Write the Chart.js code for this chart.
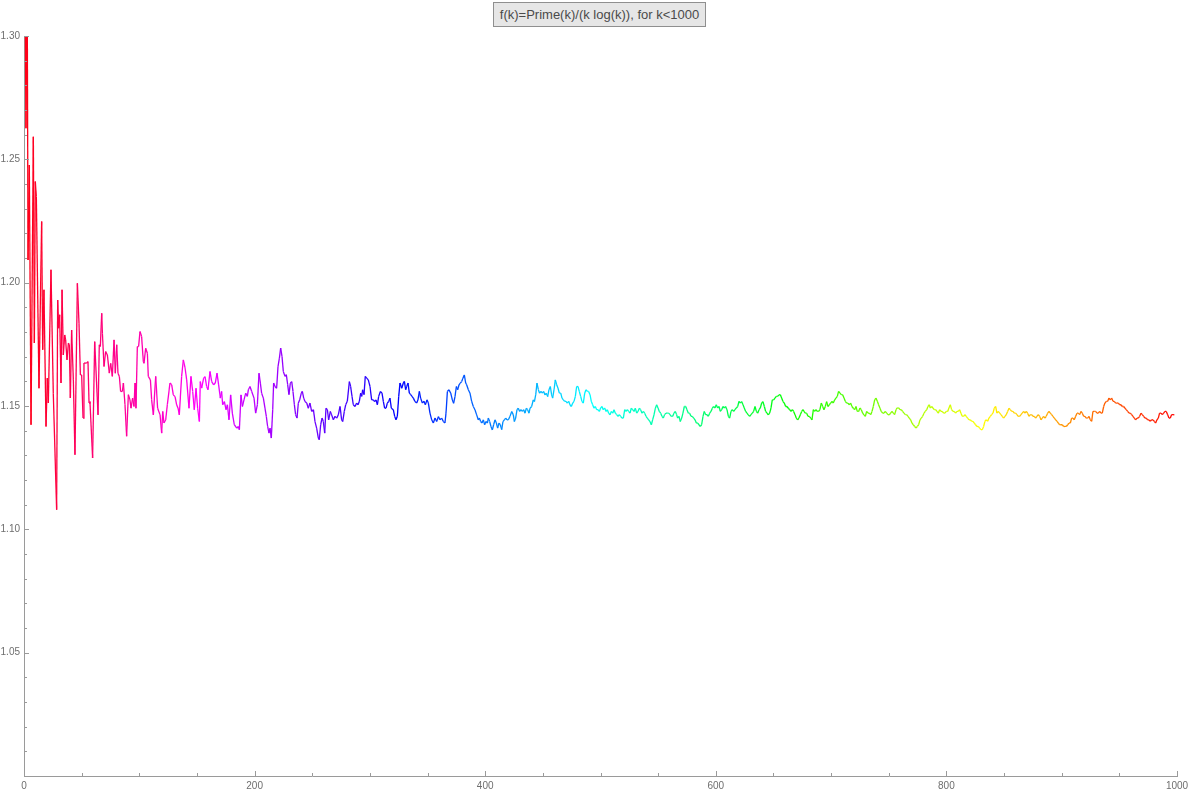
<!DOCTYPE html>
<html>
<head>
<meta charset="utf-8">
<script src="https://cdn.jsdelivr.net/npm/chart.js@4.4.1/dist/chart.umd.min.js"></script>
<style>
  html, body { margin: 0; padding: 0; background: #ffffff; }
  #wrap { position: relative; width: 1200px; height: 796px; }
  #chart { position: absolute; left: 0; top: 0; }
  #title {
    position: absolute; left: 493px; top: 2px; width: 213px; height: 25px;
    box-sizing: border-box; border: 1px solid #8f8f8f; background: #e6e6e6;
    font-family: "Liberation Sans", Arial, sans-serif; font-size: 13px; color: #4a4a4a;
    line-height: 23px; text-align: center; white-space: nowrap;
  }
</style>
</head>
<body>
<div id="wrap">
  <canvas id="chart" width="1200" height="796"></canvas>
  <div id="title">f(k)=Prime(k)/(k log(k)), for k&lt;1000</div>
</div>
<script>
// ---- data ----
const kValues = [
  1.2,1.7,2.3,2.9,3.5,4.6,6.1,8.1,9.0,9.8,
  10.7,13.0,15.3,16.2,17.3,19.1,20.2,21.1,23.4,25.4,
  28.3,29.2,30.1,30.9,32.1,33.0,34.1,35.3,36.1,37.3,
  38.5,39.3,40.2,41.3,42.8,44.2,46.3,47.7,48.9,50.0,
  51.2,52.0,54.3,55.5,56.4,57.2,59.5,61.3,64.2,65.3,
  66.2,67.4,68.0,69.4,70.8,72.3,74.0,75.2,76.6,78.1,
  79.2,80.4,81.5,82.7,83.8,85.3,86.2,87.6,89.0,90.5,
  91.9,92.8,94.2,95.4,96.3,97.1,98.3,99.4,100.6,102.0,
  103.5,104.1,105.5,107.0,107.8,109.6,110.7,112.2,114.2,115.9,
  118.0,119.4,120.3,121.4,122.9,124.3,126.6,128.1,129.5,131.0,
  132.4,133.6,134.7,136.7,138.2,139.6,141.1,143.1,144.8,146.3,
  147.7,149.2,150.6,152.1,152.9,154.1,155.8,157.0,158.4,159.6,
  161.3,162.8,164.5,165.9,167.4,168.8,170.3,171.4,172.3,173.8,
  175.2,176.4,177.8,179.2,180.7,182.4,184.5,185.9,186.8,188.2,
  189.4,190.8,192.3,193.7,194.6,196.0,197.5,199.5,200.9,202.4,
  203.8,205.0,206.1,207.6,209.0,210.2,211.3,212.5,213.4,214.5,
  215.7,216.5,217.7,219.1,220.3,221.5,222.6,223.8,224.9,226.4,
  227.5,228.7,229.8,231.0,232.2,233.3,234.5,235.6,236.8,237.9,
  239.1,240.5,241.4,242.6,243.7,245.2,246.6,248.0,249.5,251.0,
  252.4,253.8,255.3,256.1,257.3,258.5,259.6,260.8,261.9,263.1,
  264.2,265.7,266.8,268.3,269.7,271.2,272.6,274.1,275.5,276.4,
  277.8,279.0,280.4,282.2,283.3,284.5,285.6,287.1,288.5,289.7,
  290.8,292.0,292.9,293.7,294.9,296.0,297.2,298.6,300.1,301.5,
  303.0,304.1,305.3,306.5,307.6,309.1,310.5,311.7,312.8,314.0,
  315.1,316.3,317.4,318.6,320.3,321.5,322.6,323.8,325.0,326.1,
  327.6,329.0,329.9,331.0,331.9,333.1,334.2,335.4,336.5,337.7,
  339.1,340.6,341.7,342.9,344.0,345.5,346.9,348.1,349.5,350.7,
  352.1,353.6,355.0,356.5,357.9,359.4,360.8,362.2,363.7,365.1,
  366.0,367.2,368.6,370.1,371.5,372.6,373.8,375.0,376.1,377.3,
  378.4,379.6,380.7,381.9,383.1,383.9,385.4,386.8,388.3,389.7,
  391.2,392.6,394.0,394.9,396.1,397.2,398.4,399.5,400.7,401.9,
  402.7,403.9,405.0,406.2,407.3,408.5,409.7,410.8,412.0,413.1,
  414.3,415.4,416.6,417.8,418.9,420.1,421.5,423.0,424.4,425.3,
  426.4,427.6,428.7,429.9,431.0,432.2,433.4,434.5,435.7,436.8,
  438.0,438.9,440.3,441.7,442.7,443.8,444.9,446.1,447.2,448.4,
  449.6,450.7,451.9,453.0,454.2,455.3,456.5,457.6,458.5,459.7,
  460.8,462.0,463.1,464.3,465.5,466.6,467.8,468.9,470.1,471.2,
  472.4,473.5,474.7,475.9,477.0,478.2,479.3,480.5,481.6,482.8,
  483.9,485.1,486.3,487.4,488.6,489.7,490.9,492.0,493.2,494.4,
  495.5,496.7,497.8,499.0,500.1,501.3,502.4,503.6,504.8,505.9,
  507.1,508.2,509.4,510.6,511.7,512.9,514.0,515.2,516.3,517.5,
  518.6,519.8,521.0,522.1,523.3,524.4,525.6,526.7,527.9,529.1,
  530.2,531.4,532.5,533.7,534.8,536.0,537.2,538.3,539.5,540.6,
  541.8,542.9,544.1,545.2,546.4,547.6,548.7,549.9,551.0,552.2,
  553.3,554.5,555.6,556.8,558.0,559.1,560.3,561.4,562.6,563.7,
  564.9,566.0,566.9,568.1,569.2,570.4,571.5,572.7,573.9,575.0,
  576.2,577.3,578.5,579.6,580.8,582.0,583.1,584.3,585.4,586.6,
  587.7,588.9,590.0,591.2,592.4,593.5,594.7,595.8,597.0,598.1,
  599.3,600.4,601.6,602.8,603.9,605.1,606.2,607.4,608.5,609.7,
  610.9,612.0,613.2,614.3,615.5,616.6,617.8,619.0,620.1,621.3,
  622.4,623.6,624.7,625.9,627.0,628.2,629.4,630.5,631.7,632.8,
  634.0,635.2,636.3,637.5,638.6,639.8,640.9,642.1,643.2,644.4,
  645.5,646.7,647.9,649.0,650.2,651.3,652.5,653.6,654.8,656.0,
  657.1,658.3,659.4,660.6,661.7,662.9,664.1,665.2,666.4,667.5,
  668.7,669.8,671.0,672.1,673.3,674.5,675.6,676.5,677.6,678.8,
  679.9,681.1,682.3,683.4,684.6,685.7,686.9,688.0,689.2,690.3,
  691.5,692.7,693.8,695.0,696.1,697.3,698.4,699.6,700.8,701.9,
  703.1,704.2,705.4,706.5,707.7,708.8,710.0,711.2,712.3,713.5,
  714.6,715.8,716.9,718.1,719.3,720.4,721.6,722.7,723.9,725.0,
  726.2,727.4,728.5,729.7,730.8,732.0,733.1,734.3,735.5,736.6,
  737.8,738.9,740.1,741.2,742.4,743.5,744.7,745.9,747.0,748.2,
  749.3,750.5,751.6,752.8,754.0,755.1,756.3,757.4,758.6,759.7,
  760.9,762.0,763.2,764.4,765.5,766.7,767.8,769.0,770.1,771.3,
  772.5,773.6,774.8,775.9,777.1,778.2,779.4,780.6,781.7,782.9,
  784.0,785.2,786.0,787.2,788.3,789.5,790.7,791.8,793.0,794.1,
  795.3,796.4,797.6,798.7,799.9,801.1,802.2,803.4,804.5,805.7,
  806.8,808.0,809.2,810.3,811.5,812.6,813.8,814.9,816.1,817.2,
  818.4,819.6,820.7,821.9,823.0,824.2,825.3,826.5,827.7,828.8,
  830.0,831.1,832.3,833.4,834.6,835.8,836.9,838.1,839.2,840.4,
  841.5,842.7,843.8,845.0,846.2,847.3,848.5,849.6,850.8,851.9,
  853.1,854.3,855.4,856.6,857.7,858.9,860.0,861.2,862.3,863.5,
  864.7,865.8,867.0,868.1,869.3,870.4,871.6,872.8,873.9,875.1,
  876.2,877.4,878.5,879.7,880.9,882.0,883.2,884.3,885.5,886.6,
  887.8,889.0,890.1,891.3,892.4,893.6,894.8,895.9,897.1,898.2,
  899.4,900.5,901.7,902.9,904.0,905.2,906.3,907.5,908.6,909.8,
  910.9,912.1,913.3,914.4,915.6,916.7,917.9,919.0,920.2,921.3,
  922.5,923.7,924.8,926.0,927.1,928.3,929.4,930.6,931.8,932.9,
  934.1,935.2,936.4,937.5,938.7,939.9,941.0,942.2,943.3,944.5,
  945.6,946.8,947.9,949.1,950.3,951.4,952.6,953.7,954.9,956.0,
  957.2,958.4,959.5,960.7,961.8,963.0,964.1,965.3,966.4,967.6,
  968.8,969.9,971.1,972.2,973.4,974.5,975.7,976.8,978.0,979.2,
  980.3,981.5,982.6,983.8,984.9,986.1,987.3,988.4,989.6,990.7,
  991.9,993.0,994.2,995.3,996.5,997.7
];
const fValues = [
  1.300,1.2626,1.300,1.300,1.2092,1.2477,1.1424,1.2592,1.1755,1.2410,
  1.2349,1.1572,1.2248,1.1728,1.1971,1.1417,1.1613,1.1512,1.2052,1.1552,
  1.1079,1.1930,1.1815,1.1870,1.1593,1.1971,1.1707,1.1788,1.1768,1.1687,
  1.1755,1.1748,1.1532,1.1808,1.1606,1.1302,1.1998,1.1836,1.1626,1.1626,
  1.1451,1.1674,1.1674,1.1680,1.1512,1.1518,1.1289,1.1761,1.1464,1.1748,
  1.1741,1.1876,1.1795,1.1660,1.1721,1.1707,1.1633,1.1673,1.1620,1.1768,
  1.1633,1.1748,1.1633,1.1620,1.1559,1.1559,1.1593,1.1505,1.1377,1.1546,
  1.1525,1.1491,1.1532,1.1498,1.1593,1.1491,1.1741,1.1741,1.1802,1.1782,
  1.1680,1.1673,1.1734,1.1714,1.1620,1.1606,1.1525,1.1464,1.1620,1.1491,
  1.1464,1.1390,1.1478,1.1431,1.1444,1.1505,1.1593,1.1586,1.1545,1.1538,
  1.1505,1.1491,1.1464,1.1620,1.1687,1.1657,1.1606,1.1491,1.1620,1.1559,
  1.1485,1.1572,1.1491,1.1437,1.1599,1.1572,1.1613,1.1619,1.1579,1.1566,
  1.1640,1.1599,1.1586,1.1593,1.1633,1.1586,1.1532,1.1559,1.1505,1.1518,
  1.1485,1.1505,1.1444,1.1545,1.1471,1.1424,1.1410,1.1417,1.1404,1.1545,
  1.1498,1.1525,1.1552,1.1539,1.1566,1.1579,1.1559,1.1532,1.1471,1.1505,
  1.1633,1.1593,1.1552,1.1532,1.1491,1.1457,1.1417,1.1390,1.1410,1.1370,
  1.1485,1.1593,1.1579,1.1572,1.1660,1.1694,1.1735,1.1700,1.1640,1.1620,
  1.1627,1.1586,1.1546,1.1593,1.1599,1.1559,1.1505,1.1465,1.1451,1.1511,
  1.1525,1.1552,1.1559,1.1532,1.1518,1.1512,1.1491,1.1512,1.1478,1.1485,
  1.1437,1.1410,1.1370,1.1363,1.1424,1.1451,1.1437,1.1390,1.1491,1.1485,
  1.1444,1.1478,1.1464,1.1444,1.1458,1.1451,1.1464,1.1498,1.1444,1.1437,
  1.1478,1.1505,1.1519,1.1599,1.1579,1.1539,1.1505,1.1498,1.1512,1.1505,
  1.1518,1.1552,1.1539,1.1566,1.1546,1.1620,1.1613,1.1606,1.1579,1.1525,
  1.1525,1.1518,1.1525,1.1505,1.1539,1.1559,1.1552,1.1518,1.1491,1.1491,
  1.1512,1.1518,1.1532,1.1491,1.1485,1.1458,1.1444,1.1458,1.1539,1.1593,
  1.1572,1.1593,1.1600,1.1566,1.1579,1.1593,1.1552,1.1546,1.1539,1.1532,
  1.1518,1.1512,1.1525,1.1559,1.1532,1.1512,1.1519,1.1505,1.1525,1.1512,
  1.1471,1.1444,1.1431,1.1451,1.1437,1.1457,1.1444,1.1451,1.1437,1.1431,
  1.1471,1.1559,1.1566,1.1552,1.1525,1.1511,1.1538,1.1579,1.1566,1.1586,
  1.1593,1.1599,1.1613,1.1626,1.1593,1.1586,1.1566,1.1552,1.1518,1.1498,
  1.1484,1.1464,1.1444,1.1451,1.1437,1.1431,1.1444,1.1424,1.1437,1.1431,
  1.1451,1.1437,1.1417,1.1403,1.1424,1.1444,1.1431,1.1410,1.1431,1.1424,
  1.1404,1.1437,1.1444,1.1451,1.1444,1.1444,1.1458,1.1478,1.1464,1.1437,
  1.1451,1.1485,1.1491,1.1478,1.1485,1.1478,1.1485,1.1471,1.1491,1.1485,
  1.1471,1.1491,1.1498,1.1525,1.1518,1.1545,1.1593,1.1566,1.1552,1.1559,
  1.1552,1.1559,1.1545,1.1552,1.1538,1.1566,1.1579,1.1545,1.1532,1.1566,
  1.1606,1.1586,1.1573,1.1552,1.1552,1.1532,1.1525,1.1519,1.1519,1.1512,
  1.1519,1.1505,1.1498,1.1512,1.1519,1.1539,1.1579,1.1579,1.1559,1.1539,
  1.1519,1.1512,1.1552,1.1566,1.1559,1.1559,1.1546,1.1519,1.1505,1.1491,
  1.1498,1.1485,1.1485,1.1478,1.1492,1.1498,1.1485,1.1492,1.1478,1.1485,
  1.1471,1.1464,1.1478,1.1471,1.1485,1.1471,1.1465,1.1458,1.1465,1.1458,
  1.1451,1.1451,1.1485,1.1478,1.1485,1.1478,1.1471,1.1491,1.1485,1.1478,
  1.1491,1.1471,1.1478,1.1491,1.1485,1.1471,1.1478,1.1471,1.1458,1.1451,
  1.1444,1.1437,1.1424,1.1444,1.1464,1.1491,1.1505,1.1492,1.1478,1.1471,
  1.1458,1.1451,1.1465,1.1471,1.1471,1.1471,1.1465,1.1458,1.1458,1.1471,
  1.1478,1.1465,1.1451,1.1458,1.1437,1.1451,1.1471,1.1498,1.1498,1.1485,
  1.1471,1.1471,1.1458,1.1458,1.1451,1.1444,1.1431,1.1431,1.1424,1.1417,
  1.1424,1.1458,1.1478,1.1465,1.1465,1.1458,1.1471,1.1478,1.1491,1.1498,
  1.1492,1.1505,1.1492,1.1498,1.1478,1.1485,1.1498,1.1492,1.1498,1.1485,
  1.1458,1.1451,1.1478,1.1485,1.1478,1.1485,1.1492,1.1498,1.1519,1.1512,
  1.1518,1.1505,1.1492,1.1478,1.1471,1.1464,1.1458,1.1465,1.1471,1.1478,
  1.1498,1.1478,1.1471,1.1485,1.1492,1.1512,1.1518,1.1498,1.1478,1.1471,
  1.1464,1.1471,1.1492,1.1525,1.1525,1.1532,1.1539,1.1539,1.1545,1.1546,
  1.1532,1.1518,1.1512,1.1498,1.1498,1.1491,1.1485,1.1478,1.1485,1.1478,
  1.1465,1.1451,1.1444,1.1451,1.1465,1.1478,1.1485,1.1478,1.1471,1.1471,
  1.1458,1.1458,1.1451,1.1444,1.1485,1.1478,1.1485,1.1478,1.1478,1.1485,
  1.1512,1.1498,1.1485,1.1498,1.1518,1.1498,1.1505,1.1512,1.1519,1.1512,
  1.1525,1.1532,1.1539,1.1559,1.1552,1.1546,1.1546,1.1532,1.1519,1.1512,
  1.1512,1.1505,1.1512,1.1498,1.1491,1.1485,1.1498,1.1478,1.1478,1.1492,
  1.1485,1.1471,1.1464,1.1458,1.1478,1.1471,1.1471,1.1465,1.1478,1.1498,
  1.1525,1.1532,1.1519,1.1505,1.1491,1.1478,1.1471,1.1471,1.1478,1.1471,
  1.1465,1.1464,1.1471,1.1478,1.1471,1.1465,1.1485,1.1492,1.1492,1.1485,
  1.1485,1.1478,1.1471,1.1465,1.1465,1.1458,1.1451,1.1444,1.1431,1.1424,
  1.1417,1.1411,1.1417,1.1424,1.1444,1.1451,1.1458,1.1471,1.1478,1.1485,
  1.1498,1.1505,1.1492,1.1498,1.1492,1.1485,1.1485,1.1478,1.1471,1.1485,
  1.1478,1.1478,1.1471,1.1471,1.1478,1.1478,1.1492,1.1505,1.1485,1.1478,
  1.1478,1.1471,1.1478,1.1478,1.1485,1.1471,1.1458,1.1458,1.1465,1.1458,
  1.1451,1.1444,1.1444,1.1438,1.1438,1.1431,1.1424,1.1417,1.1417,1.1410,
  1.1404,1.1404,1.1417,1.1438,1.1444,1.1438,1.1451,1.1458,1.1465,1.1471,
  1.1491,1.1498,1.1471,1.1478,1.1471,1.1465,1.1458,1.1451,1.1458,1.1465,
  1.1478,1.1491,1.1485,1.1478,1.1478,1.1471,1.1471,1.1465,1.1458,1.1458,
  1.1465,1.1471,1.1478,1.1471,1.1478,1.1471,1.1458,1.1465,1.1465,1.1458,
  1.1458,1.1451,1.1458,1.1465,1.1458,1.1444,1.1451,1.1458,1.1451,1.1458,
  1.1471,1.1478,1.1471,1.1465,1.1458,1.1451,1.1444,1.1438,1.1431,1.1424,
  1.1424,1.1424,1.1417,1.1417,1.1417,1.1424,1.1431,1.1431,1.1451,1.1451,
  1.1444,1.1458,1.1471,1.1471,1.1465,1.1478,1.1471,1.1458,1.1458,1.1451,
  1.1451,1.1458,1.1444,1.1438,1.1478,1.1478,1.1478,1.1471,1.1471,1.1478,
  1.1471,1.1471,1.1498,1.1512,1.1519,1.1519,1.1532,1.1525,1.1532,1.1519,
  1.1519,1.1512,1.1512,1.1512,1.1505,1.1505,1.1498,1.1498,1.1491,1.1485,
  1.1478,1.1471,1.1471,1.1465,1.1458,1.1451,1.1444,1.1451,1.1451,1.1458,
  1.1471,1.1465,1.1458,1.1451,1.1451,1.1444,1.1444,1.1438,1.1444,1.1444,
  1.1438,1.1431,1.1444,1.1451,1.1471,1.1471,1.1465,1.1471,1.1478,1.1478,
  1.1465,1.1451,1.1451,1.1465,1.1465,1.1464
];
const xTickValues = [0, 200, 400, 600, 800, 1000];
const yTickValues = [1.05, 1.10, 1.15, 1.20, 1.25, 1.30];

// ---- styling helpers ----
const AXIS_COLOR = '#9a9a9a';
const LABEL_COLOR = '#6e6e6e';
function lineColor(k) {
  const h = Math.max(0, 355 - 0.355 * k);
  return 'hsl(' + h.toFixed(1) + ',100%,50%)';
}

const points = kValues.map((k, i) => ({ x: k, y: fValues[i] }));

const innerTicks = {
  id: 'innerTicks',
  afterDraw(chart) {
    const { ctx, scales: { x, y } } = chart;
    const x0 = x.getPixelForValue(0);
    const y0 = y.getPixelForValue(1.0);
    ctx.save();
    ctx.strokeStyle = AXIS_COLOR;
    ctx.lineWidth = 1;
    ctx.beginPath();
    for (let i = 1; i <= 30; i++) {
      const v = 1 + i * 0.01;
      const py = Math.round(y.getPixelForValue(v)) + 0.5;
      const len = (i % 5 === 0) ? 5 : 3;
      ctx.moveTo(x0, py);
      ctx.lineTo(x0 + len, py);
    }
    for (let i = 1; i <= 20; i++) {
      const v = i * 50;
      const px = Math.round(x.getPixelForValue(v)) + 0.5;
      const len = (i % 4 === 0) ? 5 : 3;
      ctx.moveTo(px, y0);
      ctx.lineTo(px, y0 - len);
    }
    ctx.stroke();
    ctx.restore();
  }
};

new Chart(document.getElementById('chart'), {
  type: 'line',
  data: {
    datasets: [{
      data: points,
      borderWidth: 1.3,
      pointRadius: 0,
      tension: 0,
      fill: false,
      borderColor: '#ff0000',
      segment: {
        borderColor: ctx => lineColor((ctx.p0.parsed.x + ctx.p1.parsed.x) / 2)
      }
    }]
  },
  options: {
    responsive: false,
    animation: false,
    devicePixelRatio: 1,
    layout: { padding: { top: 36, right: 23, left: 0, bottom: 0 } },
    plugins: { legend: { display: false }, tooltip: { enabled: false }, title: { display: false } },
    scales: {
      x: {
        type: 'linear', min: 0, max: 1000,
        grid: { display: false, drawTicks: false, tickLength: 0 },
        border: { display: true, color: AXIS_COLOR, width: 1 },
        afterBuildTicks: s => { s.ticks = xTickValues.map(v => ({ value: v })); },
        ticks: {
          color: LABEL_COLOR, padding: 4, maxRotation: 0,
          font: { family: '"Liberation Sans", Arial, sans-serif', size: 10 },
          callback: v => String(v)
        },
        afterFit: s => { s.height = 20; }
      },
      y: {
        type: 'linear', min: 1.0, max: 1.3,
        grid: { display: false, drawTicks: false, tickLength: 0 },
        border: { display: true, color: AXIS_COLOR, width: 1 },
        afterBuildTicks: s => { s.ticks = yTickValues.map(v => ({ value: v })); },
        ticks: {
          color: LABEL_COLOR, padding: 4,
          font: { family: '"Liberation Sans", Arial, sans-serif', size: 10 },
          callback: v => Number(v).toFixed(2)
        },
        afterFit: s => { s.width = 24; }
      }
    }
  },
  plugins: [innerTicks]
});
</script>
</body>
</html>
